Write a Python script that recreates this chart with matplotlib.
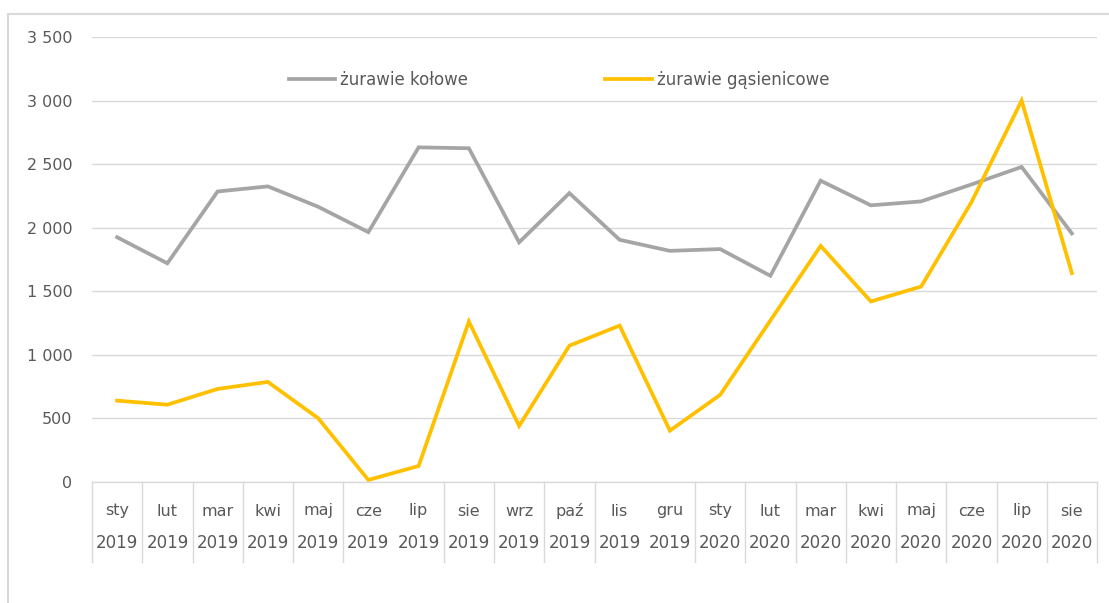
import matplotlib
matplotlib.use("Agg")
import matplotlib.pyplot as plt
from matplotlib.patches import Rectangle
from matplotlib.ticker import FuncFormatter

months = ["sty", "lut", "mar", "kwi", "maj", "cze", "lip", "sie", "wrz", "paź",
          "lis", "gru", "sty", "lut", "mar", "kwi", "maj", "cze", "lip", "sie"]
years = ["2019"] * 12 + ["2020"] * 8
kolowe = [1925, 1720, 2285, 2325, 2165, 1965, 2632, 2625, 1885, 2272,
          1905, 1818, 1832, 1622, 2370, 2176, 2207, 2340, 2478, 1955]
gasienicowe = [640, 608, 732, 787, 502, 16, 126, 1262, 441, 1072,
               1230, 404, 685, 1270, 1857, 1420, 1537, 2200, 3000, 1643]
series_names = ["żurawie kołowe", "żurawie gąsienicowe"]
yticks = [0, 500, 1000, 1500, 2000, 2500, 3000, 3500]

W, H = 1109, 603
fig = plt.figure(figsize=(W / 100, H / 100), dpi=100)
plt.rcParams['font.family'] = ['DejaVu Sans']
txt = "#595959"
grid = "#d9d9d9"

# outer frame
fig.patches.append(Rectangle((8 / W, -0.05), 1.2, (603 - 14) / H + 0.05,
                             transform=fig.transFigure, fill=False,
                             edgecolor=grid, linewidth=1.5))

left, right, top, bottom = 92, 1097, 37, 482
ax = fig.add_axes([left / W, 1 - bottom / H, (right - left) / W, (bottom - top) / H])
x = list(range(len(months)))
l1, = ax.plot(x, kolowe, color="#A5A5A5", lw=2.7, solid_joinstyle="miter")
l2, = ax.plot(x, gasienicowe, color="#FFC000", lw=2.7, solid_joinstyle="miter")

ax.set_xlim(-0.5, len(months) - 0.5)
ax.set_ylim(0, 3500)
ax.set_yticks(yticks)
ax.yaxis.set_major_formatter(FuncFormatter(lambda v, p: f"{int(v):,}".replace(",", " ")))
ax.tick_params(axis="y", length=0, pad=14, labelsize=11.5, labelcolor=txt)
ax.set_xticks([])
ax.grid(axis="y", color=grid, lw=1)
ax.set_axisbelow(True)
for s in ["left", "right", "top"]:
    ax.spines[s].set_visible(False)
ax.spines["bottom"].set_color(grid)
ax.spines["bottom"].set_linewidth(1)

# category table
h = bottom - top
tr = ax.get_xaxis_transform()
y_month = -29 / h
y_year = -61 / h
y_div = -80 / h
skip = {5.5, 10.5}
for i in range(len(months) + 1):
    xb = i - 0.5
    if xb in skip:
        continue
    ax.plot([xb, xb], [0, y_div], transform=tr, color=grid, lw=1, clip_on=False)
for i, (m, yr) in enumerate(zip(months, years)):
    ax.text(i, y_month, m, transform=tr, ha="center", va="center",
            fontsize=11.5, color=txt)
    ax.text(i, y_year, yr, transform=tr, ha="center", va="center",
            fontsize=12, color=txt)

leg = fig.legend([l1, l2], series_names, loc="center", ncol=2,
                 bbox_to_anchor=(559 / W, 1 - 80 / H), frameon=False,
                 prop={"size": 12}, labelcolor=txt, handlelength=2.8,
                 handletextpad=0.3, columnspacing=8.2)

fig.savefig("out.png", dpi=100)
